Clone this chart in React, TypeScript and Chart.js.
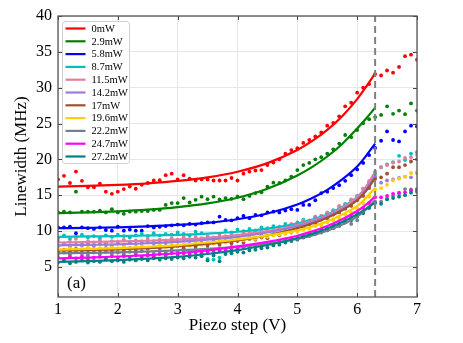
import React, { useEffect, useRef } from "react";
import { Chart, registerables } from "chart.js";
Chart.register(...registerables);

const SERIES = ["0mW", "2.9mW", "5.8mW", "8.7mW", "11.5mW", "14.2mW", "17mW", "19.6mW", "22.2mW", "24.7mW", "27.2mW"];
const COLORS = ["#ff0000", "#008000", "#0000ff", "#00bfbf", "#e07fa0", "#9a7be0", "#a0522d", "#ffd000", "#708090", "#ff00ff", "#008080"];

const X_TICKS = [1, 2, 3, 4, 5, 6, 7];
const Y_TICKS = [5, 10, 15, 20, 25, 30, 35, 40];
const X_MIN = 1;
const X_MAX = 7;
const Y_MIN = 0.8;
const Y_MAX = 40;
const CUTOFF_X = 6.3;

const X_POINTS = [
  1.0, 1.1, 1.2, 1.3, 1.4, 1.5, 1.6, 1.7, 1.8, 1.9,
  2.0, 2.1, 2.2, 2.3, 2.4, 2.5, 2.6, 2.7, 2.8, 2.9,
  3.0, 3.1, 3.2, 3.3, 3.4, 3.5, 3.6, 3.7, 3.8, 3.9,
  4.0, 4.1, 4.2, 4.3, 4.4, 4.5, 4.6, 4.7, 4.8, 4.9,
  5.0, 5.1, 5.2, 5.3, 5.4, 5.5, 5.6, 5.7, 5.8, 5.9,
  6.0, 6.1, 6.2, 6.3, 6.4, 6.5, 6.6, 6.7, 6.8, 6.9, 7.0,
];

const DOTS_0 = [
  17.2, 17.7, 16.7, 18.3, 17.0, 16.1, 16.1, 16.6, 15.5, 15.2,
  15.5, 15.85, 16.2, 15.9, 16.45, 16.7, 17.05, 17.1, 17.8, 18.0,
  17.2, 17.8, 17.3, 17.05, 17.2, 17.2, 17.05, 17.05, 17.05, 17.4,
  17.05, 18.0, 18.3, 18.45, 18.5, 19.2, 19.55, 20.0, 20.8, 21.3,
  21.55, 22.3, 22.7, 23.2, 23.75, 24.7, 25.1, 26.0, 27.4, 27.9,
  29.3, 30.0, 30.5, 31.9, 31.7, 32.4, 32.1, 32.9, 34.4, 34.6, 33.9,
];
const DOTS_1 = [
  12.6, 12.7, 12.6, 15.5, 12.7, 12.7, 12.7, 12.85, 12.6, 13.05,
  12.6, 12.4, 12.7, 12.7, 12.8, 12.8, 12.95, 12.95, 13.65, 13.9,
  13.9, 14.6, 14.0, 14.35, 14.8, 14.45, 14.8, 14.4, 14.6, 14.5,
  14.8, 14.45, 14.9, 15.3, 15.4, 16.2, 16.75, 16.7, 17.05, 17.6,
  18.5, 19.2, 19.5, 20.0, 20.3, 20.8, 21.4, 22.2, 23.4, 23.1,
  24.1, 25.05, 25.6, 25.9, 26.2, 27.4, 26.35, 26.8, 26.3, 27.8, 26.8,
];
const DOTS_2 = [
  10.5, 10.5, 10.6, 9.7, 10.5, 10.4, 10.3, 10.5, 10.15, 10.05,
  10.6, 10.05, 10.2, 10.05, 10.05, 10.7, 10.5, 10.6, 10.7, 10.8,
  10.9, 10.8, 11.0, 10.9, 11.1, 11.2, 11.2, 12.0, 11.55, 11.5,
  11.8, 12.1, 11.8, 12.25, 12.2, 12.6, 12.7, 12.6, 12.85, 13.05,
  12.95, 13.65, 13.65, 14.3, 15.3, 15.5, 16.0, 16.4, 17.0, 17.8,
  18.6, 19.5, 20.6, 21.6, 22.6, 23.9, 22.7, 22.5, 23.9, 24.7, 24.6,
];
const DOTS_3 = [
  9.0, 9.4, 8.9, 9.2, 9.5, 9.1, 9.3, 9.0, 9.4, 9.2,
  9.5, 9.3, 9.1, 9.4, 9.6, 9.3, 9.7, 9.4, 9.6, 9.5,
  9.8, 9.6, 9.4, 9.9, 9.7, 6.1, 6.0, 6.3, 10.1, 9.8,
  10.2, 10.0, 10.3, 10.1, 10.5, 10.4, 10.7, 10.6, 11.0, 10.9,
  11.2, 11.6, 11.5, 12.0, 12.1, 12.5, 12.9, 13.4, 13.8, 14.3,
  14.9, 15.9, 16.8, 18.0, 18.9, 19.3, 19.6, 20.5, 19.9, 20.8, 21.0,
];
const DOTS_4 = [
  8.6, 8.2, 8.5, 8.9, 8.3, 8.6, 8.4, 8.7, 8.3, 8.6,
  8.5, 8.8, 8.4, 8.7, 8.6, 8.9, 8.6, 8.8, 8.7, 9.0,
  8.8, 9.1, 8.9, 9.2, 9.0, 9.3, 9.1, 9.5, 9.3, 9.6,
  9.4, 9.8, 9.7, 10.0, 9.9, 10.3, 10.2, 10.6, 10.5, 11.0,
  11.0, 11.5, 11.4, 12.0, 12.1, 12.6, 12.8, 13.5, 13.7, 14.4,
  14.9, 15.9, 17.0, 18.3, 18.9, 19.2, 19.55, 19.7, 20.2, 20.3, 20.6,
];
const DOTS_5 = [
  7.9, 8.2, 7.8, 8.1, 8.0, 8.3, 7.9, 8.2, 8.1, 8.0,
  8.3, 8.1, 8.4, 8.2, 8.3, 8.5, 8.3, 8.6, 8.4, 8.7,
  8.5, 8.8, 8.6, 8.9, 8.7, 9.0, 8.8, 9.2, 9.0, 9.3,
  9.2, 9.5, 9.4, 9.8, 9.6, 10.0, 10.0, 10.3, 10.4, 10.7,
  10.8, 11.2, 11.3, 11.8, 11.9, 12.3, 12.7, 13.0, 13.4, 13.9,
  14.5, 15.3, 16.3, 17.6, 16.75, 17.05, 17.2, 17.4, 17.6, 17.5, 18.1,
];
const DOTS_6 = [
  7.1, 7.4, 7.2, 7.5, 7.3, 7.0, 7.4, 7.3, 7.6, 7.2,
  7.5, 7.3, 7.6, 7.4, 7.7, 7.5, 7.8, 7.6, 7.9, 7.7,
  7.9, 7.6, 8.0, 7.8, 8.2, 8.0, 8.3, 8.1, 8.5, 8.3,
  8.6, 8.4, 8.9, 8.8, 9.1, 9.0, 9.5, 9.4, 9.9, 9.8,
  10.3, 10.5, 10.9, 11.1, 11.6, 11.8, 12.3, 12.6, 13.1, 13.5,
  14.3, 14.9, 16.0, 17.3, 17.5, 18.0, 18.9, 18.9, 19.2, 19.7, 20.0,
];
const DOTS_7 = [
  7.5, 7.3, 7.6, 7.4, 7.5, 7.7, 7.4, 7.6, 7.5, 7.7,
  7.6, 7.8, 7.5, 7.7, 7.9, 7.7, 7.8, 8.0, 7.8, 8.1,
  7.9, 8.1, 8.0, 8.3, 8.1, 8.4, 8.3, 8.6, 8.4, 8.7,
  8.8, 8.7, 9.0, 8.9, 9.2, 9.2, 9.4, 9.5, 9.6, 9.8,
  9.9, 10.2, 10.3, 10.7, 10.8, 11.2, 11.5, 11.8, 12.3, 12.6,
  13.2, 13.9, 14.8, 15.8, 16.0, 16.45, 17.05, 17.3, 17.6, 18.1, 18.3,
];
const DOTS_8 = [
  6.8, 7.0, 6.7, 7.1, 6.9, 6.6, 7.0, 6.8, 7.1, 6.9,
  7.0, 6.8, 7.1, 6.9, 7.2, 7.0, 6.8, 7.2, 7.0, 7.3,
  7.1, 7.3, 7.0, 7.4, 7.2, 7.5, 7.3, 7.6, 7.4, 7.8,
  7.6, 7.9, 7.8, 8.1, 8.0, 8.3, 8.2, 8.5, 8.5, 8.9,
  8.8, 9.2, 9.3, 9.7, 9.8, 10.1, 10.5, 10.7, 11.2, 11.0,
  11.5, 12.6, 13.3, 14.1, 14.1, 14.45, 14.9, 15.2, 15.85, 15.8, 15.8,
];
const DOTS_9 = [
  6.3, 6.0, 6.4, 6.2, 6.5, 6.1, 6.3, 6.4, 6.2, 6.5,
  6.3, 6.5, 6.4, 6.6, 6.4, 6.6, 6.5, 6.8, 6.6, 6.9,
  6.7, 6.9, 6.8, 7.0, 6.9, 7.1, 7.0, 7.3, 7.2, 7.5,
  7.4, 7.7, 7.6, 7.9, 8.0, 8.2, 8.3, 8.6, 8.7, 9.0,
  9.1, 9.4, 9.6, 9.9, 10.2, 10.4, 10.8, 11.1, 11.6, 12.0,
  12.6, 13.2, 13.9, 14.7, 14.7, 14.9, 15.2, 15.35, 15.4, 15.65, 15.85,
];
const DOTS_10 = [
  5.6, 5.8, 5.5, 5.7, 5.9, 5.6, 5.8, 5.7, 6.0, 5.8,
  5.9, 5.7, 6.0, 5.9, 6.1, 5.9, 6.2, 6.0, 6.2, 6.1,
  6.3, 6.2, 6.4, 6.3, 6.5, 5.9, 6.6, 5.8, 6.8, 6.9,
  7.1, 7.0, 7.3, 7.4, 7.6, 7.7, 8.0, 8.1, 8.4, 8.6,
  8.9, 9.1, 9.4, 9.6, 9.9, 10.1, 10.4, 10.8, 11.2, 11.5,
  12.0, 12.5, 13.2, 13.9, 13.8, 14.45, 14.6, 14.8, 15.0, 15.35, 15.5,
];
const DOTS = [DOTS_0, DOTS_1, DOTS_2, DOTS_3, DOTS_4, DOTS_5, DOTS_6, DOTS_7, DOTS_8, DOTS_9, DOTS_10];

const FIT_X = [1, 1.5, 2, 2.5, 3, 3.5, 4, 4.5, 5, 5.25, 5.5, 5.75, 6, 6.15, 6.3];
const FIT_0 = [16.2, 16.29, 16.44, 16.66, 16.99, 17.5, 18.28, 19.48, 21.31, 22.57, 24.11, 26.03, 28.4, 30.13, 32.0];
const FIT_1 = [12.5, 12.6, 12.75, 12.98, 13.33, 13.85, 14.65, 15.9, 17.75, 18.95, 20.4, 22.15, 24.3, 25.7, 27.2];
const FIT_2 = [10.4, 10.45, 10.52, 10.65, 10.85, 11.15, 11.65, 12.45, 13.7, 14.6, 15.75, 17.2, 19.0, 20.5, 22.2];
const FIT_3 = [9.2, 9.25, 9.3, 9.38, 9.48, 9.65, 9.9, 10.35, 11.05, 11.6, 12.3, 13.35, 14.75, 16.1, 17.9];
const FIT_4 = [8.4, 8.47, 8.55, 8.65, 8.8, 9.05, 9.45, 10.0, 10.85, 11.45, 12.2, 13.25, 14.7, 16.2, 18.3];
const FIT_5 = [8.0, 8.07, 8.15, 8.3, 8.5, 8.8, 9.2, 9.8, 10.7, 11.3, 12.05, 13.05, 14.4, 15.8, 17.7];
const FIT_6 = [7.3, 7.35, 7.45, 7.6, 7.85, 8.2, 8.7, 9.4, 10.4, 11.05, 11.85, 12.9, 14.3, 15.6, 17.4];
const FIT_7 = [7.4, 7.5, 7.62, 7.8, 8.05, 8.4, 8.85, 9.4, 10.1, 10.65, 11.35, 12.3, 13.5, 14.65, 16.0];
const FIT_8 = [6.9, 6.95, 7.02, 7.15, 7.3, 7.5, 7.8, 8.25, 8.9, 9.4, 10.05, 10.9, 12.0, 13.05, 14.3];
const FIT_9 = [6.2, 6.3, 6.45, 6.65, 6.9, 7.3, 7.85, 8.5, 9.35, 9.95, 10.7, 11.65, 12.8, 13.7, 14.8];
const FIT_10 = [5.7, 5.8, 5.95, 6.15, 6.4, 6.8, 7.35, 8.05, 9.0, 9.6, 10.35, 11.25, 12.35, 13.1, 14.0];
const FITS = [FIT_0, FIT_1, FIT_2, FIT_3, FIT_4, FIT_5, FIT_6, FIT_7, FIT_8, FIT_9, FIT_10];

const FONT = "'Liberation Serif', 'DejaVu Serif', serif";

const framePlugin = {
  id: "frame",
  afterDatasetsDraw(chart: any) {
    const { ctx, chartArea: a, scales } = chart;
    ctx.save();
    ctx.strokeStyle = "#444";
    ctx.lineWidth = 1;
    const L = 4;
    Y_TICKS.forEach((v) => {
      const y = Math.round(scales.y.getPixelForValue(v)) + 0.5;
      ctx.beginPath();
      ctx.moveTo(a.left, y); ctx.lineTo(a.left + L, y);
      ctx.moveTo(a.right, y); ctx.lineTo(a.right - L, y);
      ctx.stroke();
    });
    X_TICKS.forEach((v) => {
      const x = Math.round(scales.x.getPixelForValue(v)) + 0.5;
      ctx.beginPath();
      ctx.moveTo(x, a.top); ctx.lineTo(x, a.top + L);
      ctx.moveTo(x, a.bottom); ctx.lineTo(x, a.bottom - L);
      ctx.stroke();
    });
    ctx.strokeStyle = "#555";
    ctx.lineWidth = 1.3;
    ctx.strokeRect(a.left, a.top, a.right - a.left, a.bottom - a.top);

    ctx.fillStyle = "#000";
    ctx.font = `17px ${FONT}`;
    ctx.textAlign = "left";
    ctx.textBaseline = "alphabetic";
    ctx.fillText("(a)", a.left + 9, a.bottom - 9);

    const bx = a.left + 4.5, by = a.top + 5.5, bw = 67, bh = 142;
    ctx.fillStyle = "rgba(255,255,255,0.85)";
    ctx.strokeStyle = "#d0d0d0";
    ctx.lineWidth = 1;
    ctx.beginPath();
    (ctx as any).roundRect(bx, by, bw, bh, 3);
    ctx.fill();
    ctx.stroke();
    ctx.font = `10.5px ${FONT}`;
    ctx.textBaseline = "middle";
    SERIES.forEach((name, i) => {
      const ry = by + 7 + i * 12.8;
      ctx.strokeStyle = COLORS[i];
      ctx.lineWidth = 2.2;
      ctx.beginPath();
      ctx.moveTo(bx + 3, ry);
      ctx.lineTo(bx + 23, ry);
      ctx.stroke();
      ctx.fillStyle = "#000";
      ctx.fillText(name, bx + 29, ry + 0.5);
    });
    ctx.restore();
  },
};

export default function App() {
  const ref = useRef<HTMLCanvasElement>(null);
  useEffect(() => {
    document.body.style.margin = "0";
    const datasets: any[] = [];
    SERIES.forEach((name, i) => {
      datasets.push({
        label: name,
        type: "line",
        data: FIT_X.map((x, j) => ({ x, y: FITS[i][j] })),
        borderColor: COLORS[i],
        backgroundColor: COLORS[i],
        borderWidth: 2.2,
        pointRadius: 0,
        fill: false,
        cubicInterpolationMode: "monotone",
        order: 20 - i,
      });
      datasets.push({
        label: name + " data",
        type: "scatter",
        data: X_POINTS.map((x, j) => ({ x, y: DOTS[i][j] })),
        backgroundColor: COLORS[i],
        borderWidth: 0,
        pointRadius: 1.9,
        showLine: false,
        order: 40 - i,
      });
    });
    datasets.push({
      label: "cutoff",
      type: "line",
      data: [{ x: CUTOFF_X, y: Y_MIN }, { x: CUTOFF_X, y: Y_MAX }],
      borderColor: "#808080",
      borderWidth: 2,
      borderDash: [7, 4],
      pointRadius: 0,
      fill: false,
      order: 0,
    });

    const chart = new Chart(ref.current!, {
      type: "scatter",
      data: { datasets },
      plugins: [framePlugin],
      options: {
        animation: false,
        responsive: false,
        devicePixelRatio: 1,
        layout: { padding: { left: 0, right: 46, top: 16, bottom: 0 } },
        plugins: { legend: { display: false }, tooltip: { enabled: false } },
        scales: {
          x: {
            type: "linear",
            min: X_MIN,
            max: X_MAX,
            afterBuildTicks: (s: any) => { s.ticks = X_TICKS.map((v) => ({ value: v })); },
            afterFit: (s: any) => { s.height = 46; },
            grid: { color: "#e6e6e6", lineWidth: 1, drawTicks: false },
            border: { display: false },
            ticks: { color: "#000", font: { family: FONT, size: 16 }, padding: 3 },
            title: { display: true, text: "Piezo step (V)", color: "#000", font: { family: FONT, size: 17 }, padding: { top: 0, bottom: 7 } },
          },
          y: {
            type: "linear",
            min: Y_MIN,
            max: Y_MAX,
            afterBuildTicks: (s: any) => { s.ticks = Y_TICKS.map((v) => ({ value: v })); },
            afterFit: (s: any) => { s.width = 58; },
            grid: { color: "#e6e6e6", lineWidth: 1, drawTicks: false },
            border: { display: false },
            ticks: { color: "#000", font: { family: FONT, size: 16 }, padding: 6 },
            title: { display: true, text: "Linewidth (MHz)", color: "#000", font: { family: FONT, size: 17 }, padding: { top: 11, bottom: 0 } },
          },
        },
      } as any,
    });
    return () => chart.destroy();
  }, []);
  return (
    <div style={{ position: "absolute", left: 0, top: 0, width: 463, height: 343 }}>
      <canvas ref={ref} width={463} height={343} style={{ width: 463, height: 343 }} />
    </div>
  );
}
